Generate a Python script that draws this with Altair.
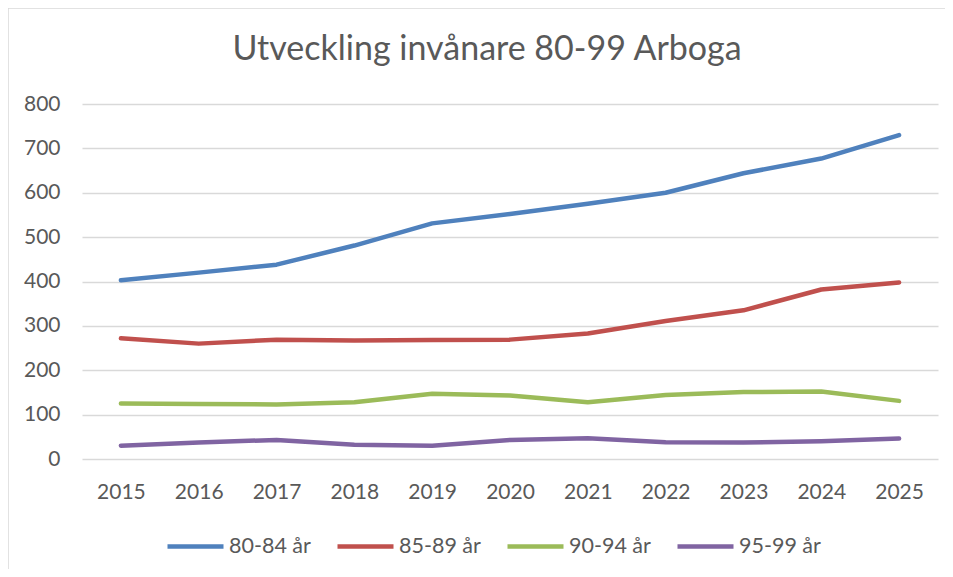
import altair as alt
import pandas as pd

years = ["2015", "2016", "2017", "2018", "2019", "2020", "2021", "2022", "2023", "2024", "2025"]
series_names = ["80-84 år", "85-89 år", "90-94 år", "95-99 år"]
s80_84 = [403, 420, 438, 481, 531, 552, 575, 600, 644, 677, 730]
s85_89 = [272, 260, 269, 267, 268, 269, 283, 311, 335, 382, 398]
s90_94 = [125, 124, 123, 128, 147, 143, 128, 144, 151, 152, 131]
s95_99 = [30, 37, 43, 32, 30, 43, 47, 38, 37, 40, 46]
y_ticks = [0, 100, 200, 300, 400, 500, 600, 700, 800]
colors = ["#4F81BD", "#C0504D", "#9BBB59", "#8064A2"]
title_text = "Utveckling invånare 80-99 Arboga"

rows = []
for name, vals in zip(series_names, [s80_84, s85_89, s90_94, s95_99]):
    for yr, v in zip(years, vals):
        rows.append({"År": yr, "Serie": name, "Antal": v})
df = pd.DataFrame(rows)

FONT = "Lato"
GRAY = "#595959"
W, H = 856, 355

lines = alt.Chart(df).mark_line(strokeWidth=4.5, strokeCap="round", strokeJoin="round").encode(
    x=alt.X("År:N", sort=years, scale=alt.Scale(type="point", padding=0.5),
            axis=alt.Axis(title=None, labelAngle=0, ticks=False, domain=False, grid=False,
                          labelPadding=22, labelFontSize=21, labelColor=GRAY, labelFont=FONT)),
    y=alt.Y("Antal:Q", scale=alt.Scale(domain=[0, 800], nice=False),
            axis=alt.Axis(title=None, values=y_ticks, ticks=False, domain=False,
                          gridColor="#d9d9d9", gridWidth=1.5, labelPadding=22,
                          labelFontSize=21, labelColor=GRAY, labelFont=FONT)),
    color=alt.Color("Serie:N", sort=series_names,
                    scale=alt.Scale(domain=series_names, range=colors),
                    legend=alt.Legend(title=None, orient="none", legendX=83, legendY=412,
                                      direction="horizontal", symbolType="stroke",
                                      symbolSize=3136, symbolStrokeWidth=4.5,
                                      labelFontSize=21.5, labelColor=GRAY, labelFont=FONT,
                                      labelOffset=3, columnPadding=17)),
)

title = alt.Chart(pd.DataFrame({"t": [title_text]})).mark_text(
    font=FONT, fontSize=34, color=GRAY, baseline="middle", align="center"
).encode(text="t:N", x=alt.value(405), y=alt.value(-54))

border = alt.Chart(pd.DataFrame({"t": [0]})).mark_rect(
    fillOpacity=0, stroke="#d9d9d9", strokeWidth=1.5
).encode(x=alt.value(-74), x2=alt.value(W + 200), y=alt.value(-96), y2=alt.value(H + 300))

chart = alt.layer(border, title, lines).properties(
    width=W, height=H,
    autosize=alt.AutoSizeParams(type="none"),
    padding={"left": 74, "top": 96, "right": 7, "bottom": 110},
).configure_view(stroke=None)

chart.save("out.html", embed_options={"renderer": "svg", "actions": False})
